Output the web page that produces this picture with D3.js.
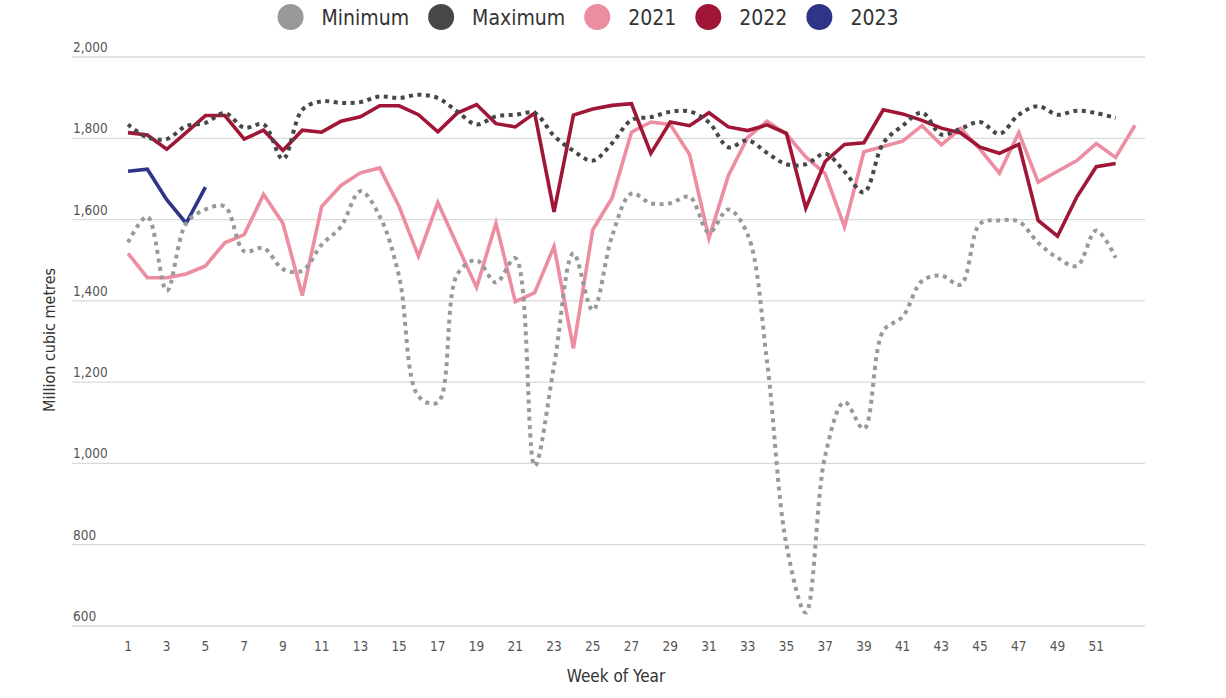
<!doctype html>
<html>
<head>
    <meta charset="UTF-8">
    <title>Weekly volumes</title>
    <script src="https://cdn.jsdelivr.net/npm/d3@7"></script>
    <style>
        body { margin: 0; background: #fff; }
        text { font-family: "DejaVu Sans Condensed", "Liberation Sans Narrow", sans-serif; }
        .tick-y { font-size: 13.5px; fill: #555; }
        .tick-x { font-size: 13.5px; fill: #555; text-anchor: middle; }
        .axis-title { font-size: 17px; fill: #333; text-anchor: middle; }
        .legend { font-size: 21px; fill: #333; }
    </style>
</head>
<body>
<script>
    // values, week 1..n
    var minimum = [1544, 1607, 1425, 1590, 1625, 1632, 1522, 1530, 1478, 1474, 1538, 1583, 1670, 1608, 1460, 1165, 1150, 1465, 1500, 1445,
        1505, 994, 1240, 1517, 1377, 1560, 1664, 1640, 1640, 1656, 1568, 1625, 1563, 1250, 800, 633, 1019, 1151, 1085, 1326,
        1361, 1449, 1462, 1440, 1590, 1598, 1595, 1543, 1506, 1486, 1573, 1506];
    var maximum = [1834, 1802, 1798, 1830, 1838, 1862, 1826, 1834, 1749, 1870, 1891, 1887, 1889, 1903, 1899, 1907, 1899, 1866, 1834, 1854,
        1858, 1862, 1806, 1769, 1745, 1788, 1845, 1852, 1865, 1866, 1839, 1778, 1795, 1764, 1736, 1736, 1762, 1718, 1667, 1788,
        1831, 1863, 1809, 1824, 1840, 1811, 1858, 1879, 1858, 1868, 1862, 1850];
    var y2021 = [1517, 1457, 1457, 1466, 1486, 1543, 1563, 1662, 1591, 1413, 1632, 1684, 1715, 1727, 1632, 1510, 1642, 1537, 1433, 1591,
        1398, 1420, 1534, 1283, 1575, 1653, 1815, 1840, 1834, 1760, 1554, 1708, 1802, 1842, 1810, 1754, 1713, 1582, 1767, 1780,
        1793, 1831, 1784, 1824, 1773, 1714, 1814, 1692, 1719, 1745, 1787, 1753, 1832];
    var y2022 = [1814, 1808, 1773, 1814, 1856, 1856, 1798, 1820, 1770, 1820, 1815, 1842, 1853, 1880, 1880, 1858, 1816, 1862, 1883, 1836,
        1828, 1862, 1619, 1857, 1872, 1881, 1885, 1763, 1840, 1831, 1863, 1828, 1819, 1833, 1812, 1628, 1743, 1785, 1789, 1870,
        1860, 1844, 1825, 1813, 1778, 1763, 1785, 1598, 1559, 1656, 1730, 1738];
    var y2023 = [1719, 1724, 1649, 1591, 1680];

    var yTicks = [600, 800, 1000, 1200, 1400, 1600, 1800, 2000];
    var xTicks = d3.range(1, 52, 2);

    var series = [
        { name: "2021", values: y2021, color: "#ec8da1", dotted: false },
        { name: "2022", values: y2022, color: "#a01637", dotted: false },
        { name: "2023", values: y2023, color: "#2e3589", dotted: false },
        { name: "Minimum", values: minimum, color: "#999999", dotted: true },
        { name: "Maximum", values: maximum, color: "#474747", dotted: true }
    ];
    var legendOrder = ["Minimum", "Maximum", "2021", "2022", "2023"];

    var width = 1226, height = 698;
    var svg = d3.select("body").append("svg")
        .attr("width", width)
        .attr("height", height);

    var x = d3.scaleLinear().domain([1, 53]).range([128, 1135]);
    var y = d3.scaleLinear().domain([600, 2000]).range([626, 57]);
    var gridLeft = 72, gridRight = 1145;

    // gridlines + y labels
    svg.selectAll(".grid")
        .data(yTicks)
        .enter()
        .append("line")
        .attr("x1", gridLeft)
        .attr("x2", gridRight)
        .attr("y1", function (d) { return y(d); })
        .attr("y2", function (d) { return y(d); })
        .style("stroke", "#d9d9d9")
        .style("stroke-width", 1.3);

    svg.selectAll(".tick-y")
        .data(yTicks)
        .enter()
        .append("text")
        .attr("class", "tick-y")
        .attr("x", gridLeft + 1)
        .attr("y", function (d) { return y(d) - 5; })
        .text(d3.format(","));

    svg.selectAll(".tick-x")
        .data(xTicks)
        .enter()
        .append("text")
        .attr("class", "tick-x")
        .attr("x", function (d) { return x(d); })
        .attr("y", 651)
        .text(function (d) { return d; });

    svg.append("text")
        .attr("class", "axis-title")
        .attr("x", 616)
        .attr("y", 682)
        .text("Week of Year");

    svg.append("text")
        .attr("class", "axis-title")
        .attr("transform", "translate(55,340) rotate(-90)")
        .style("font-size", "16px")
        .text("Million cubic metres");

    // lines
    var straight = d3.line()
        .x(function (d, i) { return x(i + 1); })
        .y(function (d) { return y(d); });
    var smooth = d3.line()
        .x(function (d, i) { return x(i + 1); })
        .y(function (d) { return y(d); })
        .curve(d3.curveCatmullRom.alpha(0.5));

    series.forEach(function (s) {
        svg.append("path")
            .datum(s.values)
            .attr("d", s.dotted ? smooth : straight)
            .style("fill", "none")
            .style("stroke", s.color)
            .style("stroke-width", s.dotted ? 4 : 3.6)
            .style("stroke-dasharray", s.dotted ? "4,4.5" : null)
            .style("stroke-linejoin", "miter");
    });

    // legend
    var legend = svg.append("g");
    var lx = 0;
    legendOrder.forEach(function (name) {
        var s = series.filter(function (d) { return d.name === name; })[0];
        legend.append("circle")
            .attr("cx", lx + 13)
            .attr("cy", 17)
            .attr("r", 13)
            .style("fill", s.color);
        var t = legend.append("text")
            .attr("class", "legend")
            .attr("x", lx + 26 + 18)
            .attr("y", 25)
            .text(name);
        lx = lx + 26 + 18 + t.node().getComputedTextLength() + 19;
    });
    var legendW = lx - 19;
    legend.attr("transform", "translate(" + (588 - legendW / 2) + ",0)");
</script>
</body>
</html>
